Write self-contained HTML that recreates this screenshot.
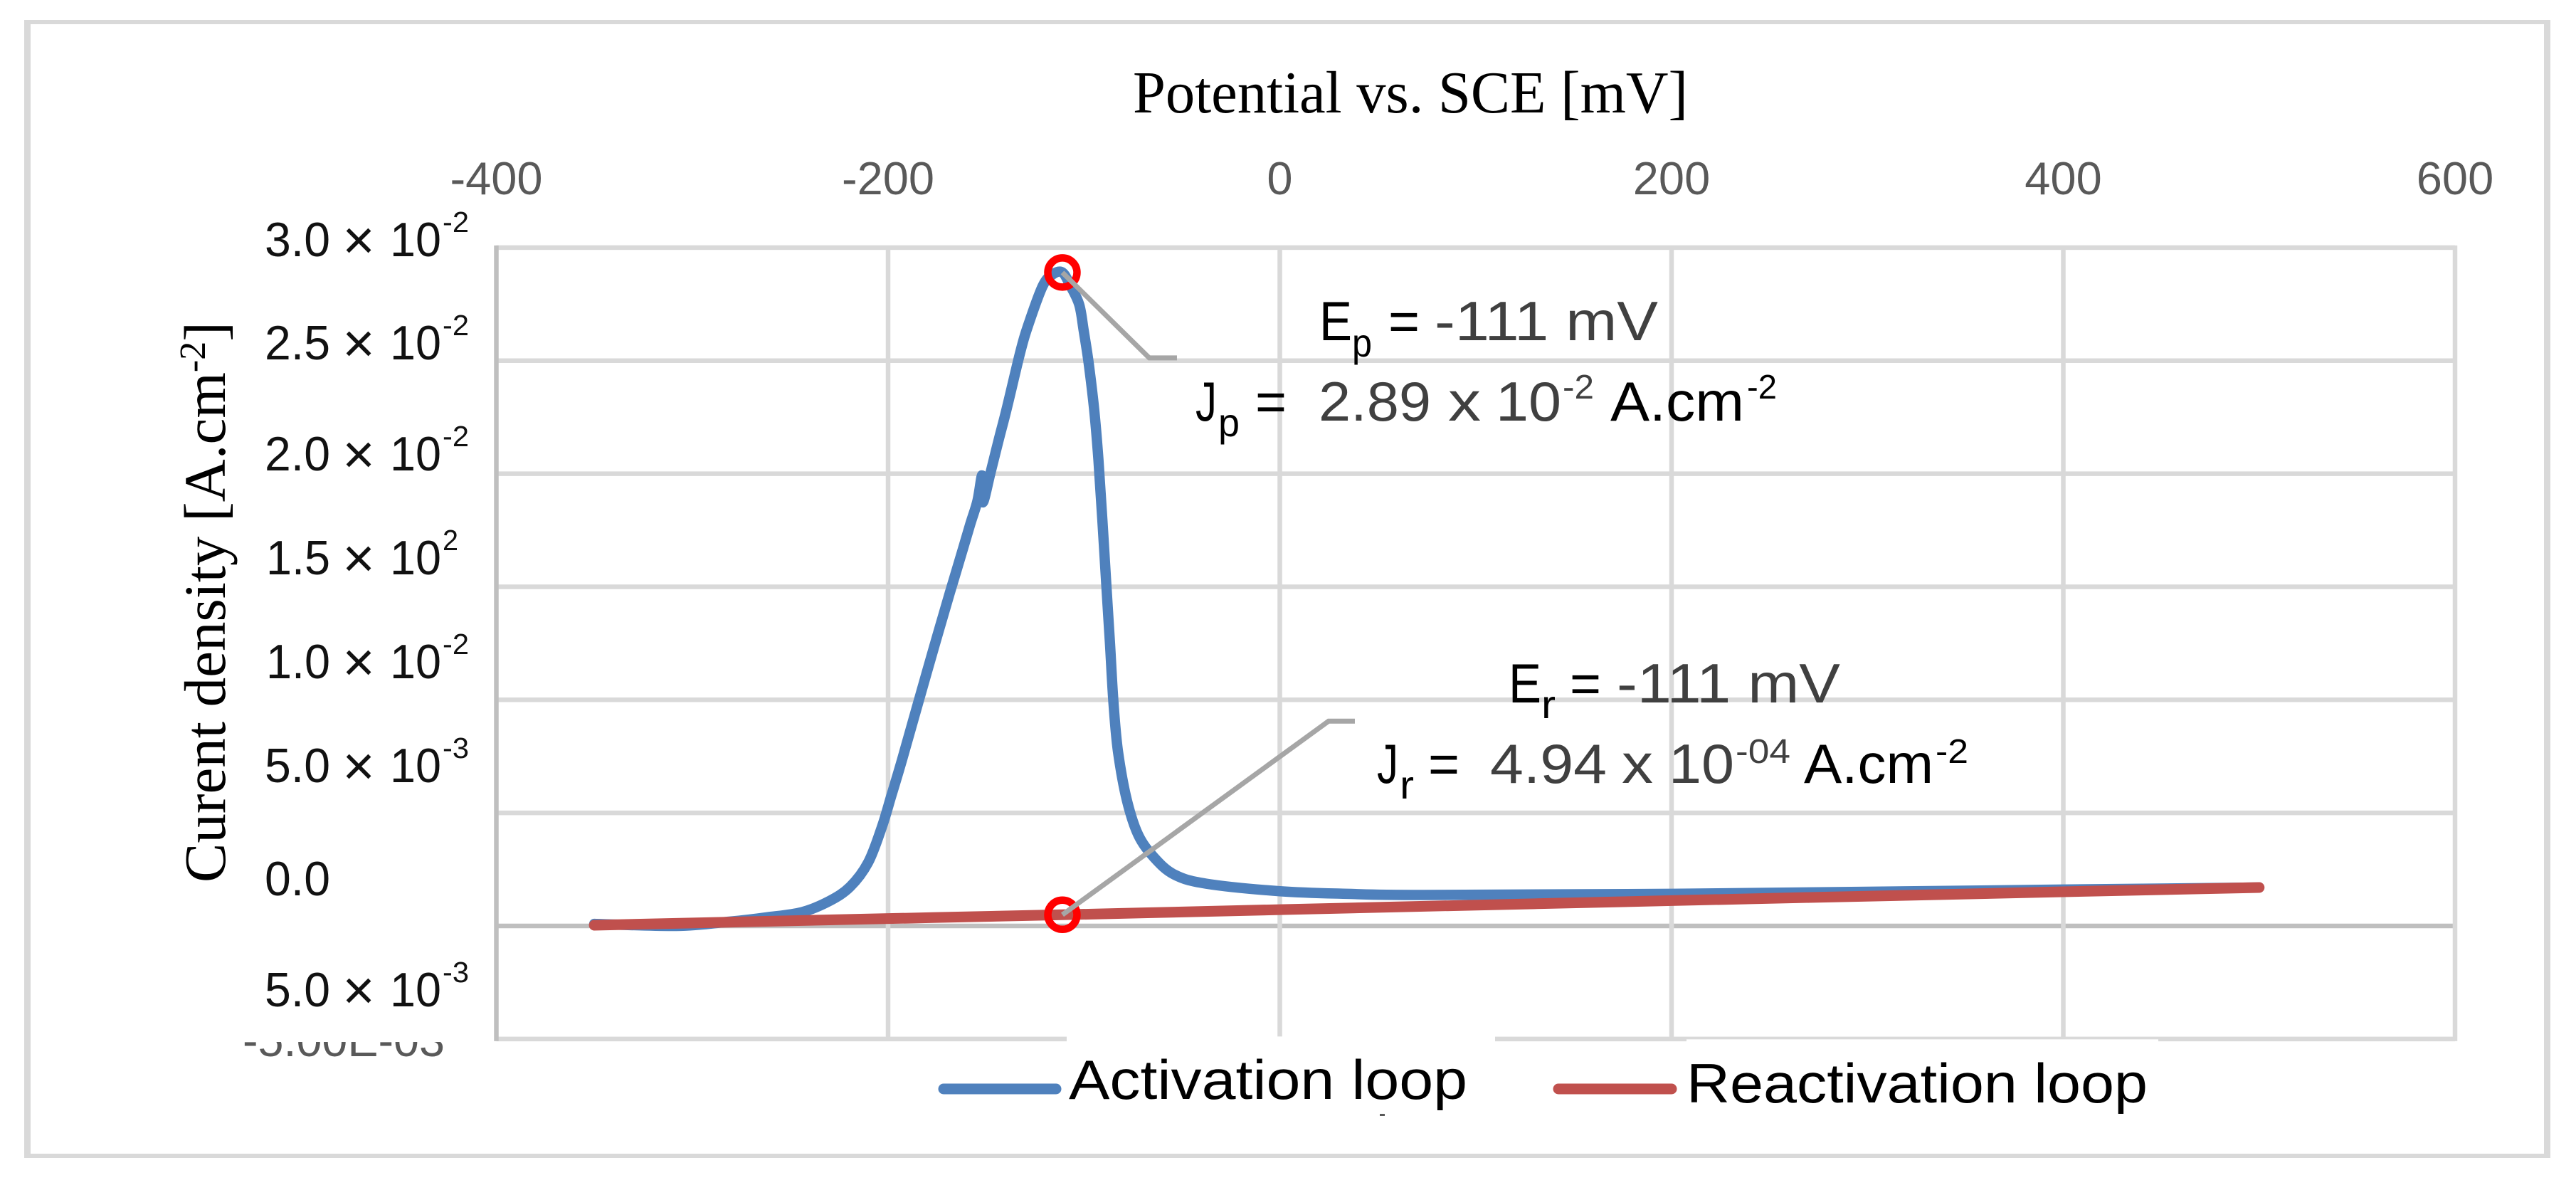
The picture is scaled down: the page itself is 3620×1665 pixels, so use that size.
<!DOCTYPE html>
<html lang="en">
<head>
<meta charset="utf-8">
<title>Potentiodynamic activation and reactivation loops</title>
<style>
html,body{margin:0;padding:0;background:#fff;}
svg{display:block;}
.sans{font-family:"Liberation Sans",sans-serif;}
.serif{font-family:"Liberation Serif",serif;}
.yt{font-family:"Liberation Sans",sans-serif;font-size:68px;fill:#111;}
.yx{font-family:"Liberation Sans",sans-serif;font-size:78px;fill:#111;text-anchor:middle;}
.ys{font-family:"Liberation Sans",sans-serif;font-size:41px;fill:#111;}
.an{font-family:"Liberation Sans",sans-serif;font-size:78px;fill:#000;}
.ag{font-family:"Liberation Sans",sans-serif;font-size:78px;fill:#404040;}
.asub{font-family:"Liberation Sans",sans-serif;font-size:56px;fill:#000;}
.asup{font-family:"Liberation Sans",sans-serif;font-size:48px;fill:#404040;}
</style>
</head>
<body>
<svg id="chart" xmlns="http://www.w3.org/2000/svg" width="3620" height="1665" viewBox="0 0 3620 1665">
  <rect x="0" y="0" width="3620" height="1665" fill="#ffffff"/>
  <g fill="#d9d9d9">
    <rect x="34" y="28" width="3550" height="6"/>
    <rect x="34" y="1621" width="3550" height="6"/>
    <rect x="34" y="28" width="9" height="1599"/>
    <rect x="3575" y="28" width="9" height="1599"/>
  </g>
  <g id="grid"></g>
  <g id="xticks"></g>

  <text class="serif" x="1592" y="158" font-size="84" fill="#000" textLength="780" lengthAdjust="spacingAndGlyphs">Potential vs. SCE [mV]</text>
  <text class="serif" transform="translate(316,1240) rotate(-90)" font-size="83" fill="#000">Curent density [A.cm<tspan font-size="52" dy="-28">-2</tspan><tspan dy="28">]</tspan></text>

  <g>
    <g><text class="yt" x="372" y="360" textLength="92" lengthAdjust="spacingAndGlyphs">3.0</text><text class="yx" x="504" y="364">×</text><text class="yt" x="548" y="360" textLength="72" lengthAdjust="spacingAndGlyphs">10</text><text class="ys" x="622" y="326" textLength="37" lengthAdjust="spacingAndGlyphs">-2</text></g>
    <g><text class="yt" x="372" y="505" textLength="92" lengthAdjust="spacingAndGlyphs">2.5</text><text class="yx" x="504" y="509">×</text><text class="yt" x="548" y="505" textLength="72" lengthAdjust="spacingAndGlyphs">10</text><text class="ys" x="622" y="471" textLength="37" lengthAdjust="spacingAndGlyphs">-2</text></g>
    <g><text class="yt" x="372" y="661" textLength="92" lengthAdjust="spacingAndGlyphs">2.0</text><text class="yx" x="504" y="665">×</text><text class="yt" x="548" y="661" textLength="72" lengthAdjust="spacingAndGlyphs">10</text><text class="ys" x="622" y="627" textLength="37" lengthAdjust="spacingAndGlyphs">-2</text></g>
    <g><text class="yt" x="374" y="807" textLength="90" lengthAdjust="spacingAndGlyphs">1.5</text><text class="yx" x="504" y="811">×</text><text class="yt" x="548" y="807" textLength="72" lengthAdjust="spacingAndGlyphs">10</text><text class="ys" x="622" y="773" textLength="22" lengthAdjust="spacingAndGlyphs">2</text></g>
    <g><text class="yt" x="374" y="953" textLength="90" lengthAdjust="spacingAndGlyphs">1.0</text><text class="yx" x="504" y="957">×</text><text class="yt" x="548" y="953" textLength="72" lengthAdjust="spacingAndGlyphs">10</text><text class="ys" x="622" y="919" textLength="37" lengthAdjust="spacingAndGlyphs">-2</text></g>
    <g><text class="yt" x="372" y="1099" textLength="92" lengthAdjust="spacingAndGlyphs">5.0</text><text class="yx" x="504" y="1103">×</text><text class="yt" x="548" y="1099" textLength="72" lengthAdjust="spacingAndGlyphs">10</text><text class="ys" x="622" y="1065" textLength="37" lengthAdjust="spacingAndGlyphs">-3</text></g>
    <g><text class="yt" x="372" y="1258" textLength="92" lengthAdjust="spacingAndGlyphs">0.0</text></g>
    <g><text class="yt" x="372" y="1414" textLength="92" lengthAdjust="spacingAndGlyphs">5.0</text><text class="yx" x="504" y="1418">×</text><text class="yt" x="548" y="1414" textLength="72" lengthAdjust="spacingAndGlyphs">10</text><text class="ys" x="622" y="1380" textLength="37" lengthAdjust="spacingAndGlyphs">-3</text></g>
    <clipPath id="cutLabelClip"><rect x="320" y="1464" width="330" height="40"/></clipPath>
    <g clip-path="url(#cutLabelClip)"><text class="sans" x="341" y="1484" font-size="65" fill="#595959" textLength="284" lengthAdjust="spacingAndGlyphs">-5.00E-03</text></g>
  </g>

  <g id="series"></g>

  <g>
    <text class="an" x="1854" y="478" textLength="46" lengthAdjust="spacingAndGlyphs">E</text>
    <text class="asub" x="1900" y="501" textLength="28" lengthAdjust="spacingAndGlyphs">p</text>
    <text class="an" x="1951" y="478" textLength="44" lengthAdjust="spacingAndGlyphs">=</text>
    <text class="ag" x="2016" y="478" textLength="314" lengthAdjust="spacingAndGlyphs">-111 mV</text>
    <text class="an" x="1680" y="591" textLength="30" lengthAdjust="spacingAndGlyphs">J</text>
    <text class="asub" x="1712" y="613" textLength="30" lengthAdjust="spacingAndGlyphs">p</text>
    <text class="an" x="1764" y="591" textLength="44" lengthAdjust="spacingAndGlyphs">=</text>
    <text class="ag" x="1853" y="591" textLength="158" lengthAdjust="spacingAndGlyphs">2.89</text>
    <text class="ag" x="2035" y="591" textLength="46" lengthAdjust="spacingAndGlyphs">x</text>
    <text class="ag" x="2102" y="591" textLength="92" lengthAdjust="spacingAndGlyphs">10</text>
    <text class="asup" x="2196" y="560" textLength="44" lengthAdjust="spacingAndGlyphs">-2</text>
    <text class="an" x="2263" y="591" textLength="188" lengthAdjust="spacingAndGlyphs">A.cm</text>
    <text class="asup" x="2455" y="560" textLength="42" lengthAdjust="spacingAndGlyphs" style="fill:#000">-2</text>
  </g>
  <g>
    <text class="an" x="2120" y="987" textLength="46" lengthAdjust="spacingAndGlyphs">E</text>
    <text class="asub" x="2166" y="1009" textLength="20" lengthAdjust="spacingAndGlyphs">r</text>
    <text class="an" x="2206" y="987" textLength="44" lengthAdjust="spacingAndGlyphs">=</text>
    <text class="ag" x="2272" y="987" textLength="314" lengthAdjust="spacingAndGlyphs">-111 mV</text>
    <text class="an" x="1935" y="1100" textLength="30" lengthAdjust="spacingAndGlyphs">J</text>
    <text class="asub" x="1967" y="1122" textLength="20" lengthAdjust="spacingAndGlyphs">r</text>
    <text class="an" x="2007" y="1100" textLength="44" lengthAdjust="spacingAndGlyphs">=</text>
    <text class="ag" x="2094" y="1100" textLength="164" lengthAdjust="spacingAndGlyphs">4.94</text>
    <text class="ag" x="2279" y="1100" textLength="44" lengthAdjust="spacingAndGlyphs">x</text>
    <text class="ag" x="2345" y="1100" textLength="92" lengthAdjust="spacingAndGlyphs">10</text>
    <text class="asup" x="2439" y="1072" textLength="77" lengthAdjust="spacingAndGlyphs">-04</text>
    <text class="an" x="2535" y="1100" textLength="182" lengthAdjust="spacingAndGlyphs">A.cm</text>
    <text class="asup" x="2720" y="1072" textLength="46" lengthAdjust="spacingAndGlyphs" style="fill:#000">-2</text>
  </g>

  <g>
    <g>
      <line x1="1326" y1="1530" x2="1484" y2="1530" stroke="#4f81bd" stroke-width="15" stroke-linecap="round"/>
      <text class="sans" x="1502" y="1544" font-size="78" fill="#000" textLength="560" lengthAdjust="spacingAndGlyphs">Activation loop</text>
    </g>
    <g>
      <line x1="2190" y1="1530" x2="2349" y2="1530" stroke="#c0504d" stroke-width="15" stroke-linecap="round"/>
      <text class="sans" x="2370" y="1549" font-size="78" fill="#000" textLength="648" lengthAdjust="spacingAndGlyphs">Reactivation loop</text>
    </g>
    <rect x="1939" y="1565" width="7" height="3" fill="#595959"/>
  </g>
</svg>
<script>
// Axis ticks
const xTickValues = [-400, -200, 0, 200, 400, 600];
const yGridValues = [-5, 0, 5, 10, 15, 20, 25, 30]; // 10^-3 A/cm2

// Activation loop: potential in mV, current density in 10^-3 A/cm2
const activationPotential = [-350, -308, -281, -262, -244, -230, -219.4, -210.2, -203.3, -198.5, -192.7, -184.7, -176.6, -168.4, -163.8, -158, -154.4, -152, -151.6, -147.7, -143.7, -139.5, -132.5, -128.1, -120.9, -115.7, -111, -107, -102.4, -100.1, -97.7, -94.8, -92.6, -90.6, -88.5, -86.7, -84.9, -82.6, -78.1, -72.3, -64.1, -53.8, -37.6, -0.5, 34.3, 73.2, 200.7, 399.8, 500];
const activationCurrent = [0.09, 0, 0.19, 0.38, 0.61, 1.10, 1.73, 2.80, 4.34, 5.71, 7.40, 9.85, 12.31, 14.76, 16.08, 17.78, 18.79, 19.92, 18.73, 20.05, 21.44, 22.85, 25.38, 26.66, 28.33, 28.83, 28.9, 28.33, 27.48, 26.31, 24.96, 22.85, 20.62, 17.97, 14.98, 12.46, 9.85, 7.71, 5.57, 4.03, 3.02, 2.27, 1.87, 1.54, 1.42, 1.37, 1.42, 1.61, 1.70];

// Reactivation loop
const reactivationPotential = [-350, -250, -111, 0, 200, 400, 500];
const reactivationCurrent = [0.03, 0.23, 0.494, 0.72, 1.12, 1.51, 1.70];

// Marked points
const peakPoint = [-111, 28.9];
const reactivationPoint = [-111, 0.494];

const xScale = v => 1798.5 + v * 2.7525;
const yScale = v => 1301 - v * 31.77;

const NS = 'http://www.w3.org/2000/svg';
function make(tag, attrs, parent) {
  const el = document.createElementNS(NS, tag);
  for (const k in attrs) el.setAttribute(k, attrs[k]);
  parent.appendChild(el);
  return el;
}

const grid = document.getElementById('grid');
const xticks = document.getElementById('xticks');
const series = document.getElementById('series');
const PLOT_LEFT = xScale(-400);
const PLOT_RIGHT = xScale(600);
const PLOT_TOP = yScale(30);
const PLOT_BOTTOM = yScale(-5);

yGridValues.forEach(v => {
  const line = make('line', {x1: PLOT_LEFT, x2: PLOT_RIGHT, y1: yScale(v), y2: yScale(v), stroke: v === 0 ? '#bfbfbf' : '#d9d9d9', 'stroke-width': 6.5}, grid);
  
  
});
xTickValues.forEach(v => {
  const line = make('line', {x1: xScale(v), x2: xScale(v), y1: PLOT_TOP - 3, y2: PLOT_BOTTOM + 3, stroke: v === -400 ? '#bfbfbf' : '#d9d9d9', 'stroke-width': 6.5}, grid);
  
  
  const label = make('text', {x: xScale(v), y: 273, 'text-anchor': 'middle', class: 'sans', 'font-size': 65, fill: '#595959'}, xticks);
  label.textContent = String(v);
  
  
});

// Gaps left in the source image's bottom border
const gapA = make('rect', {x: 1499, y: PLOT_BOTTOM - 3.5, width: 602, height: 8, fill: '#fff'}, grid);


const gapB = make('rect', {x: 2370, y: PLOT_BOTTOM + 0.5, width: 663, height: 4, fill: '#fff'}, grid);



// Smooth curve through every data point (Catmull-Rom to Bezier)
function pathFrom(xs, ys) {
  const pts = xs.map((x, i) => [xScale(x), yScale(ys[i])]);
  let d = 'M' + pts[0][0].toFixed(1) + ' ' + pts[0][1].toFixed(1);
  for (let i = 0; i < pts.length - 1; i++) {
    const p0 = pts[Math.max(i - 1, 0)];
    const p1 = pts[i];
    const p2 = pts[i + 1];
    const p3 = pts[Math.min(i + 2, pts.length - 1)];
    const c1x = p1[0] + (p2[0] - p0[0]) / 6;
    const c1y = p1[1] + (p2[1] - p0[1]) / 6;
    const c2x = p2[0] - (p3[0] - p1[0]) / 6;
    const c2y = p2[1] - (p3[1] - p1[1]) / 6;
    d += ' C' + c1x.toFixed(1) + ' ' + c1y.toFixed(1) + ' ' + c2x.toFixed(1) + ' ' + c2y.toFixed(1) + ' ' + p2[0].toFixed(1) + ' ' + p2[1].toFixed(1);
  }
  return d;
}

const activationLine = make('path', {d: pathFrom(activationPotential, activationCurrent), fill: 'none', stroke: '#4f81bd', 'stroke-width': 14.5, 'stroke-linejoin': 'round', 'stroke-linecap': 'round'}, series);



const reactivationLine = make('path', {d: pathFrom(reactivationPotential, reactivationCurrent), fill: 'none', stroke: '#c0504d', 'stroke-width': 15, 'stroke-linejoin': 'round', 'stroke-linecap': 'round'}, series);



const peakMarker = make('circle', {cx: xScale(peakPoint[0]), cy: yScale(peakPoint[1]), r: 20.5, fill: 'none', stroke: '#ff0000', 'stroke-width': 10.5}, series);



const reactMarker = make('circle', {cx: xScale(reactivationPoint[0]), cy: yScale(reactivationPoint[1]), r: 20.5, fill: 'none', stroke: '#ff0000', 'stroke-width': 10.5}, series);



const px = xScale(peakPoint[0]), py = yScale(peakPoint[1]);
const peakLeader = make('polyline', {points: `${px},${py} ${px + 122},${py + 120} ${px + 161},${py + 120}`, fill: 'none', stroke: '#a6a6a6', 'stroke-width': 7}, series);



const rx = xScale(reactivationPoint[0]), ry = yScale(reactivationPoint[1]);
const reactLeader = make('polyline', {points: `${rx},${ry} ${rx + 374},${ry - 272} ${rx + 411},${ry - 272}`, fill: 'none', stroke: '#a6a6a6', 'stroke-width': 7}, series);


</script>
</body>
</html>
